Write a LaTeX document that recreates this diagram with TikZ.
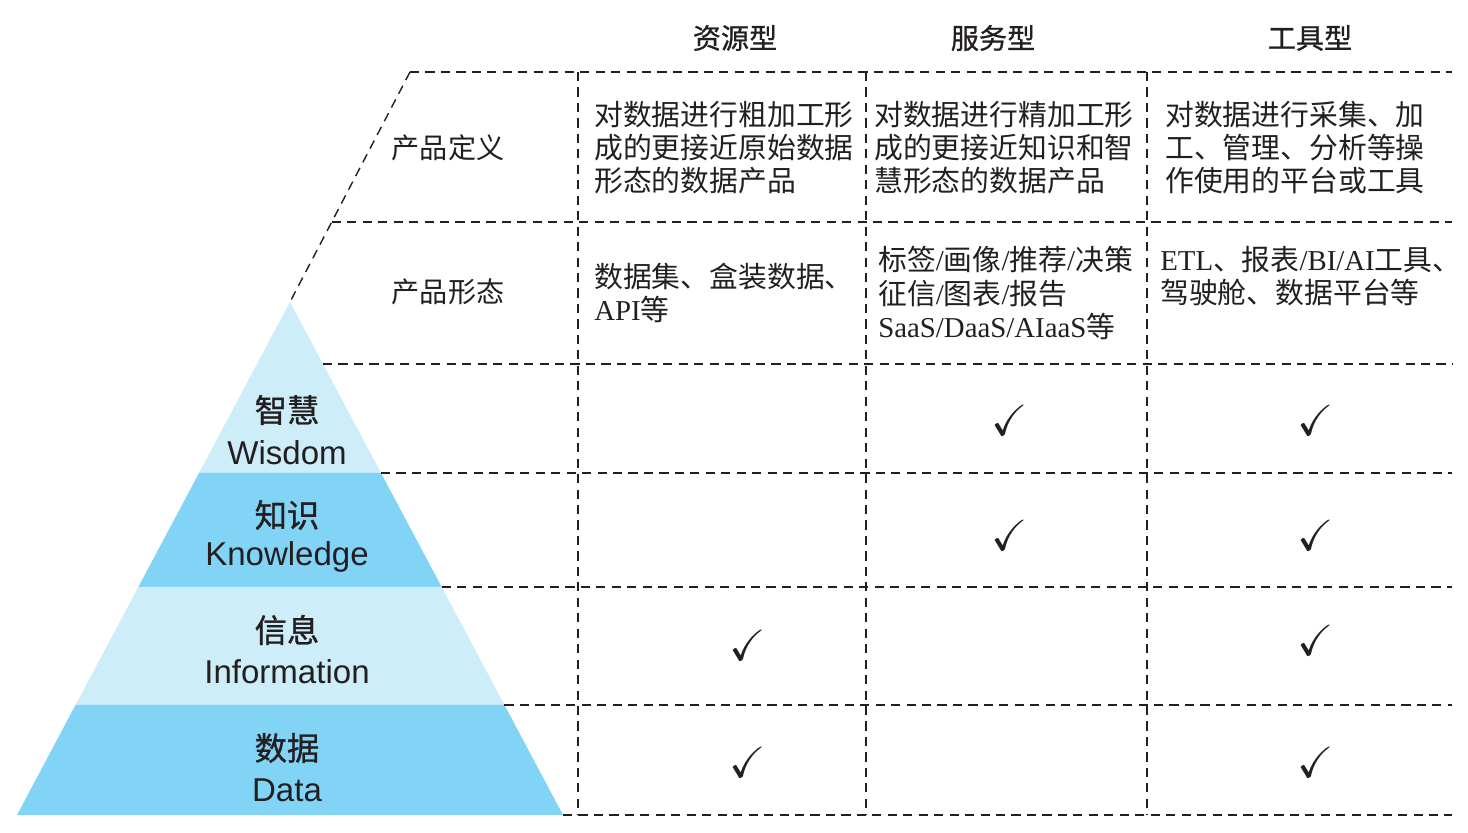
\documentclass[tikz,border=0pt]{standalone}
\usepackage{fontspec}
\usepackage{amssymb}
\setmainfont{Liberation Serif}
\newfontfamily\cjk{Noto Sans CJK SC}
\newfontfamily\cjkmid[FakeBold=0.9]{Noto Sans CJK SC}
\newfontfamily\ensans{Liberation Sans}
\definecolor{palesky}{HTML}{CDEDF9}
\definecolor{deepsky}{HTML}{81D4F5}
\definecolor{inkgray}{HTML}{231F20}
\tikzset{
  grid/.style = {draw = inkgray, line width = 1pt, dash pattern = on 6.5pt off 4.5pt},
  head/.style = {inner sep = 0, text = inkgray, font = \cjkmid\fontsize{20}{24}\selectfont},
  rowlab/.style = {inner sep = 0, text = inkgray, font = \cjk\fontsize{20}{24}\selectfont},
  cell/.style = {anchor = west, align = left, inner sep = 0, text = inkgray, font = \cjk\fontsize{20.5}{23.5}\selectfont},
  layercn/.style = {inner sep = 0, text = inkgray, font = \cjkmid\fontsize{23}{26}\selectfont},
  layeren/.style = {inner sep = 0, text = inkgray, font = \ensans\fontsize{23.5}{26}\selectfont},
  tick/.style = {inner sep = 0, text = inkgray, font = \fontsize{31}{31}\selectfont}
}

\begin{document}
\begin{tikzpicture} [scale = 1]
\useasboundingbox (0.0, 0.0) rectangle (36.7, 20.825);
\fill[palesky] (7.25, 13.275) -- (9.525, 9.0) -- (4.975, 9.0) -- cycle;
\fill[deepsky] (4.975, 9.0) -- (9.525, 9.0) -- (11.042, 6.15) -- (3.458, 6.15) -- cycle;
\fill[palesky] (3.458, 6.15) -- (11.042, 6.15) -- (12.612, 3.2) -- (1.888, 3.2) -- cycle;
\fill[deepsky] (1.888, 3.2) -- (12.612, 3.2) -- (14.075, 0.45) -- (0.425, 0.45) -- cycle;
\coordinate (apex) at (7.25, 13.275);
\coordinate (corner) at (10.25, 19.025);
\draw[grid] (corner) -- (apex);
\draw[grid] (corner) -- (36.3, 19.025);
\draw[grid] (8.294, 15.275) -- (36.3, 15.275);
\draw[grid] (8.075, 11.725) -- (36.3, 11.725);
\draw[grid] (9.525, 9.0) -- (36.3, 9.0);
\draw[grid] (11.042, 6.15) -- (36.3, 6.15);
\draw[grid] (12.612, 3.2) -- (36.3, 3.2);
\draw[grid] (14.075, 0.45) -- (36.3, 0.45);
\draw[grid] (14.45, 19.025) -- (14.45, 0.45);
\draw[grid] (21.65, 19.025) -- (21.65, 0.45);
\draw[grid] (28.675, 19.025) -- (28.675, 0.45);
\node[head] (res) at (18.375, 19.875) {资源型};
\node[head] (svc) at (24.825, 19.875) {服务型};
\node[head] (tool) at (32.75, 19.875) {工具型};
\node[rowlab] (def) at (11.2, 17.125) {产品定义};
\node[rowlab] (form) at (11.2, 13.525) {产品形态};
\node[cell] (defres) at (14.85, 17.125) {对数据进行粗加工形\\成的更接近原始数据\\形态的数据产品};
\node[cell] (defsvc) at (21.85, 17.125) {对数据进行精加工形\\成的更接近知识和智\\慧形态的数据产品};
\node[cell] (deftool) at (29.125, 17.125) {对数据进行采集、加\\工、管理、分析等操\\作使用的平台或工具};
\node[cell] (formres) at (14.85, 13.5) {数据集、盒装数据、\\{\rmfamily API}等};
\node[cell] (formsvc) at (21.95, 13.5) {标签{\rmfamily /}画像{\rmfamily /}推荐{\rmfamily /}决策\\征信{\rmfamily /}图表{\rmfamily /}报告\\{\rmfamily SaaS/DaaS/AIaaS}等};
\node[cell] (formtool) at (29.0, 13.9125) {{\rmfamily ETL}、报表{\rmfamily /BI/AI}工具、\\驾驶舱、数据平台等};
\node[layercn] (wisdomcn) at (7.175, 10.575) {智慧};
\node[layeren] (wisdomen) at (7.175, 9.5) {Wisdom};
\node[layercn] (knowcn) at (7.175, 7.95) {知识};
\node[layeren] (knowen) at (7.175, 6.9) {Knowledge};
\node[layercn] (infocn) at (7.175, 5.075) {信息};
\node[layeren] (infoen) at (7.175, 4.025) {Information};
\node[layercn] (datacn) at (7.175, 2.125) {数据};
\node[layeren] (dataen) at (7.175, 1.075) {Data};
\node[tick] (wisdomsvc) at (25.25, 10.325) {$\checkmark$};
\node[tick] (wisdomtool) at (32.9, 10.325) {$\checkmark$};
\node[tick] (knowsvc) at (25.25, 7.45) {$\checkmark$};
\node[tick] (knowtool) at (32.9, 7.45) {$\checkmark$};
\node[tick] (infores) at (18.7, 4.7) {$\checkmark$};
\node[tick] (infotool) at (32.9, 4.825) {$\checkmark$};
\node[tick] (datares) at (18.7, 1.775) {$\checkmark$};
\node[tick] (datatool) at (32.9, 1.775) {$\checkmark$};
\end{tikzpicture}
\end{document}
